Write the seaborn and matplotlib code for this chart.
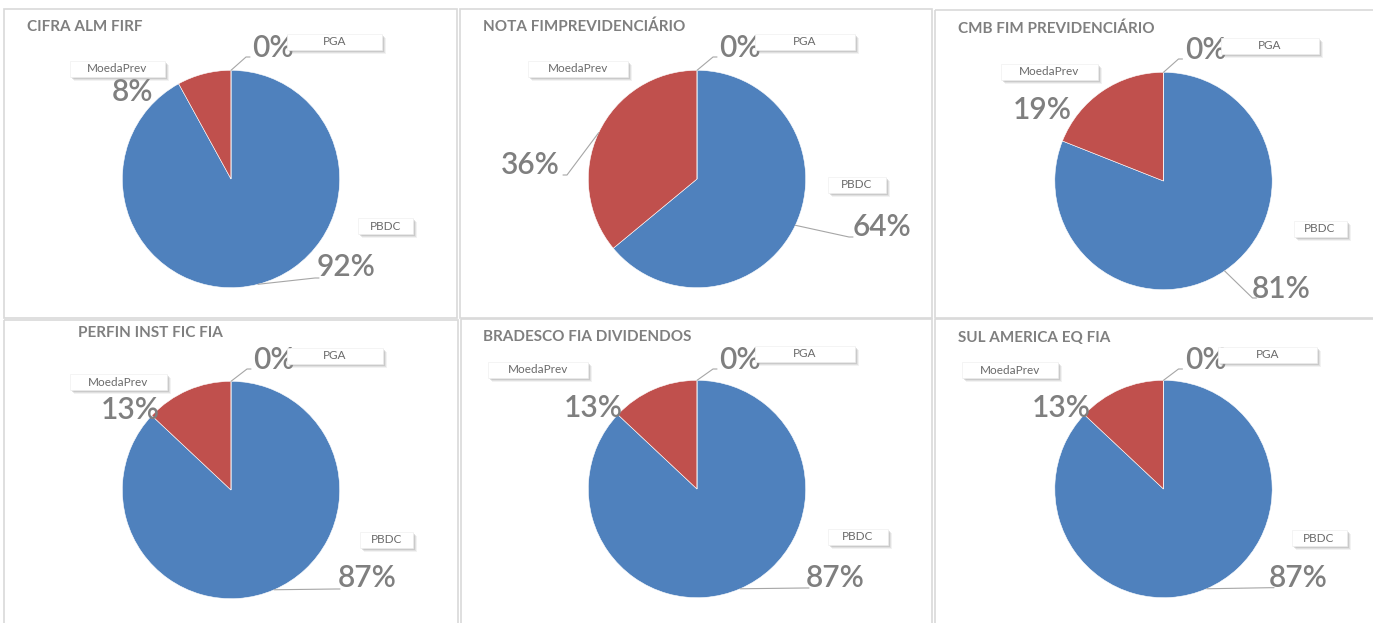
import numpy as np
import matplotlib
matplotlib.use("Agg")
import matplotlib.pyplot as plt
import seaborn as sns
from matplotlib.patches import Rectangle

# Dados
fundos = ["CIFRA ALM FIRF", "NOTA FIMPREVIDENCIÁRIO", "CMB FIM PREVIDENCIÁRIO",
          "PERFIN INST FIC FIA", "BRADESCO FIA DIVIDENDOS", "SUL AMERICA EQ FIA"]
categorias = ["PBDC", "MoedaPrev", "PGA"]
pbdc = [92, 64, 81, 87, 87, 87]
moedaprev = [8, 36, 19, 13, 13, 13]
pga = [0, 0, 0, 0, 0, 0]

sns.set_style("white")
plt.rcParams['font.family'] = ['Lato', 'DejaVu Sans']

cores = ['#4f81bd', '#c0504d', '#9bbb59']
cinza = '#7f7f7f'
W, H = 1373, 623

# layout (pixels)
centros = [(231, 179), (697, 179), (1163.5, 181), (231, 490), (697, 489), (1163.5, 489)]
raio = 108.7
paineis = [(4, 9, 453, 309), (460, 9, 472, 309), (935, 10, 445, 308),
           (4, 320, 454, 310), (461, 319, 471, 310), (935, 319, 445, 310)]
titulos_pos = [(27, 27), (483, 27), (958, 29), (78, 333), (483, 337), (958, 338)]

pct_pos = [
    [(115, 88), (-98.5, -87), (42, -131)],
    [(185, 48), (-166.5, -14), (43, -131)],
    [(117.5, 108), (-121.5, -71), (42, -131)],
    [(136, 88), (-101, -80), (43, -130)],
    [(138, 89), (-103.5, -81), (43, -129)],
    [(135, 89), (-101.8, -81), (42, -129)],
]
caixas = [
    [(154.5, 47, 55), (-113.5, -110, 95), (103.5, -137.5, 95)],
    [(160, 6, 58), (-119, -110, 100), (108, -137.5, 100)],
    [(156.5, 47.5, 53), (-114.5, -109.5, 97), (106, -135.5, 98)],
    [(155.5, 49.5, 53), (-112.5, -108, 97), (104, -134.5, 96)],
    [(161, 48, 60), (-159, -119.5, 100), (108, -135.3, 100)],
    [(155.5, 49, 55), (-153.5, -119, 96), (104, -134, 99)],
]
guias = [
    [(84, 99), None, (15, -122)],
    [(152, 58), (-130, -4), (16, -122)],
    [(89, 117), None, (15, -122)],
    [(105, 99), None, (16, -121)],
    [(108, 99), None, (16, -120)],
    [(106.5, 98.7), None, (15, -120)],
]

fig = plt.figure(figsize=(W / 100, H / 100), dpi=100)
fig.patch.set_facecolor('white')

over = fig.add_axes([0, 0, 1, 1], zorder=5)
over.set_xlim(0, W)
over.set_ylim(H, 0)
over.axis('off')
over.patch.set_alpha(0)

for i, nome in enumerate(fundos):
    cx, cy = centros[i]
    px, py, pw, ph = paineis[i]
    over.add_patch(Rectangle((px, py), pw, ph, fill=False, edgecolor='#d9d9d9', lw=1.2))

    ax = fig.add_axes([(cx - raio) / W, 1 - (cy + raio) / H, 2 * raio / W, 2 * raio / H], zorder=2)
    valores = [pbdc[i], moedaprev[i], pga[i]]
    wedges, _ = ax.pie(valores, colors=cores, startangle=90, counterclock=False,
                       wedgeprops=dict(edgecolor='white', linewidth=0.4))
    ax.set_xlim(-1, 1)
    ax.set_ylim(-1, 1)
    ax.axis('off')

    over.text(*titulos_pos[i], nome, fontsize=11, fontweight='bold', color=cinza,
              ha='left', va='center')

    for j, cat in enumerate(categorias):
        w = wedges[j]
        ang = np.deg2rad((w.theta1 + w.theta2) / 2)
        sx, sy = cx + raio * np.cos(ang), cy - raio * np.sin(ang)
        tx, ty = pct_pos[i][j]
        if guias[i][j] is not None:
            ex, ey = cx + guias[i][j][0], cy + guias[i][j][1]
            d = 4 if cx + tx > ex else -4
            over.plot([sx, ex, ex + d], [sy, ey, ey], color='#a6a6a6', lw=0.8, zorder=3)
        over.text(cx + tx, cy + ty, f"{valores[j]:.0f}%", fontsize=21.5, fontweight='semibold',
                  color=cinza, ha='center', va='center', zorder=4)

        bx, by, bw = caixas[i][j]
        bh = 16
        x0, y0 = cx + bx - bw / 2, cy + by - bh / 2
        for k, a in [(4, 0.12), (3, 0.2), (2, 0.3), (1, 0.35)]:
            over.add_patch(Rectangle((x0 + k, y0 + k), bw, bh, facecolor='#9a9a9a',
                                     edgecolor='none', alpha=a, zorder=5))
        over.add_patch(Rectangle((x0, y0), bw, bh, facecolor='white', edgecolor='#f0f0f0',
                                 lw=0.5, zorder=6))
        over.text(cx + bx, cy + by, cat, fontsize=8.5, color='#6a6a6a',
                  ha='center', va='center', zorder=7)

plt.savefig("out.png", dpi=100, facecolor='white')
